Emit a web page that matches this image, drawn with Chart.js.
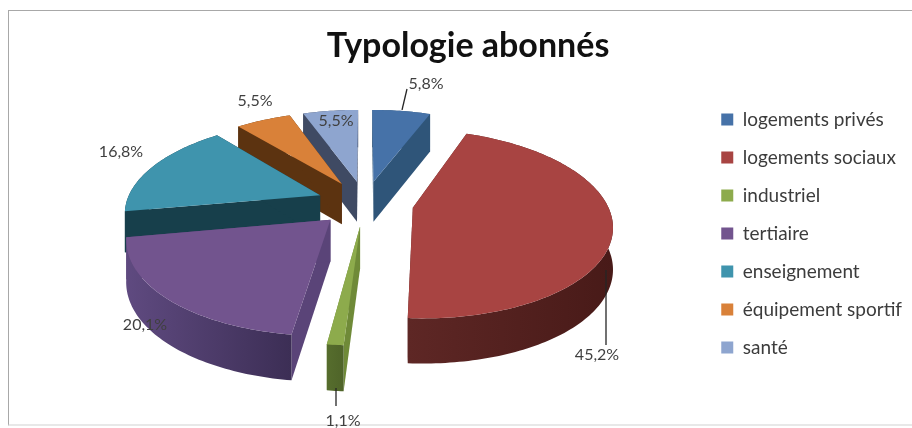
<!DOCTYPE html>
<html>
<head>
<meta charset="utf-8">
<style>
html, body { margin: 0; background: #fff; overflow: hidden; }
#frame { position: absolute; left: 8px; top: 10px; width: 904px; height: 416px;
  border-left: 1px solid #a8a8a8; border-top: 1px solid #a8a8a8; border-bottom: 2px solid #e8e8e8; box-sizing: border-box; }
canvas { position: absolute; left: 0; top: 0; }
</style>
</head>
<body>
<div id="frame"></div>
<canvas id="typologie" width="912" height="428"></canvas>
<script src="https://cdn.jsdelivr.net/npm/chart.js@4"></script>
<script>
// Data
const categories = ['logements privés', 'logements sociaux', 'industriel', 'tertiaire', 'enseignement', 'équipement sportif', 'santé'];
const shares = [5.8, 45.2, 1.1, 20.1, 16.8, 5.5, 5.5];

// Colours per slice
const topColors = ['#4672a8', '#a84442', '#8dab4c', '#72548e', '#3f94ad', '#d98139', '#8ea5cf'];
const wallColors = ['#2f5579', '#5c2523', '#6f8a38', '#5a4478', '#173f4b', '#5c3310', '#3f4a63'];
const rimLeft = ['#2f5579', '#5e2725', '#566d2d', '#5f4a80', '#173f4b', '#5c3310', '#3f4a63'];
const rimRight = ['#2f5579', '#481a18', '#4f6429', '#3c2e55', '#173f4b', '#5c3310', '#3f4a63'];

// Label anchors (centre of text) and leader lines
const labelPositions = [[426, 84], [597, 355], [343, 421], [145, 325], [121, 152], [255, 101], [336, 121]];
const leaderLines = [[402, 110, 407, 89], [606, 270, 606, 345], [336, 388, 336, 406], null, null, null, null];

// Fake 3D camera, the pie plane is seen tilted with some perspective
const camera = { x: 365, y: 203, radius: 200, scaleX: 0.97, scaleY: 0.4513, persp: 0.000837, depth: 41 };

function project(X, Y, lowered) {
    const w = 1 / (1 - camera.persp * Y);
    const py = camera.y + camera.scaleY * Y * w;
    return {
        x: camera.x + camera.scaleX * X * w,
        y: lowered ? py + camera.depth * Math.sqrt(w) : py
    };
}

function fillPoly(ctx, pts, fill) {
    ctx.beginPath();
    pts.forEach((p, i) => i ? ctx.lineTo(p.x, p.y) : ctx.moveTo(p.x, p.y));
    ctx.closePath();
    ctx.fillStyle = fill;
    ctx.fill();
}

// Replaces the flat arcs, geometry comes from the arc elements of the chart
const pie3d = {
    id: 'pie3d',
    // Legend sits lower than the default slot
    afterLayout(chart) {
        const legend = chart.legend;
        legend.top += 77;
        legend.bottom += 77;
    },
    beforeDatasetDraw(chart) {
        const ctx = chart.ctx;
        const arcs = chart.getDatasetMeta(0).data.map((arc, i) => {
            const p = arc.getProps(['startAngle', 'endAngle']);
            const mid = (p.startAngle + p.endAngle) / 2;
            const off = arc.options.offset;
            return { i, start: p.startAngle, end: p.endAngle, ox: Math.cos(mid) * off, oy: Math.sin(mid) * off };
        });
        arcs.sort((a, b) => a.oy - b.oy);  // back to front

        arcs.forEach(s => {
            const rim = [];
            const rimLow = [];
            const steps = Math.max(6, Math.ceil((s.end - s.start) / 0.02));
            for (let k = 0; k <= steps; k++) {
                const a = s.start + (s.end - s.start) * k / steps;
                const X = s.ox + Math.cos(a) * camera.radius;
                const Y = s.oy + Math.sin(a) * camera.radius;
                rim.push(project(X, Y, false));
                rimLow.push(project(X, Y, true));
            }
            const apex = project(s.ox, s.oy, false);
            const apexLow = project(s.ox, s.oy, true);

            // cut faces
            fillPoly(ctx, [apex, rim[0], rimLow[0], apexLow], wallColors[s.i]);
            fillPoly(ctx, [apex, rim[steps], rimLow[steps], apexLow], wallColors[s.i]);

            // outer wall
            const xs = rim.map(p => p.x);
            const grad = ctx.createLinearGradient(Math.min(...xs), 0, Math.max(...xs), 0);
            grad.addColorStop(0, rimLeft[s.i]);
            grad.addColorStop(1, rimRight[s.i]);
            fillPoly(ctx, rim.concat(rimLow.slice().reverse()), grad);

            // top face
            fillPoly(ctx, [apex].concat(rim), topColors[s.i]);
        });
        return false;
    },
    afterDatasetsDraw(chart) {
        const ctx = chart.ctx;
        ctx.save();
        ctx.strokeStyle = '#262626';
        ctx.lineWidth = 1.3;
        leaderLines.forEach(l => {
            if (!l) return;
            ctx.beginPath();
            ctx.moveTo(l[0], l[1]);
            ctx.lineTo(l[2], l[3]);
            ctx.stroke();
        });
        ctx.fillStyle = '#404040';
        ctx.font = '16px Lato';
        ctx.textAlign = 'center';
        ctx.textBaseline = 'middle';
        shares.forEach((v, i) => {
            const txt = v.toFixed(1).replace('.', ',') + '%';
            ctx.fillText(txt, labelPositions[i][0], labelPositions[i][1]);
        });
        ctx.restore();
    }
};

const typologieChart = new Chart(document.getElementById('typologie'), {
    type: 'pie',
    data: {
        labels: categories,
        datasets: [{
            data: shares,
            backgroundColor: topColors,
            borderWidth: 0,
            offset: 50
        }]
    },
    options: {
        responsive: false,
        animation: false,
        layout: { padding: { left: 24, top: 14, right: 0, bottom: 0 } },
        plugins: {
            title: {
                display: true,
                text: 'Typologie abonnés',
                color: '#111',
                font: { family: 'Lato', size: 34, weight: 'bold' },
                padding: { top: 12, bottom: 20 }
            },
            legend: {
                position: 'right',
                align: 'start',
                onClick: null,
                labels: {
                    boxWidth: 12,
                    boxHeight: 12,
                    padding: 19,
                    color: '#3c3c3c',
                    font: { family: 'Lato', size: 19 }
                }
            },
            tooltip: { enabled: false }
        }
    },
    plugins: [pie3d]
});
</script>
</body>
</html>
